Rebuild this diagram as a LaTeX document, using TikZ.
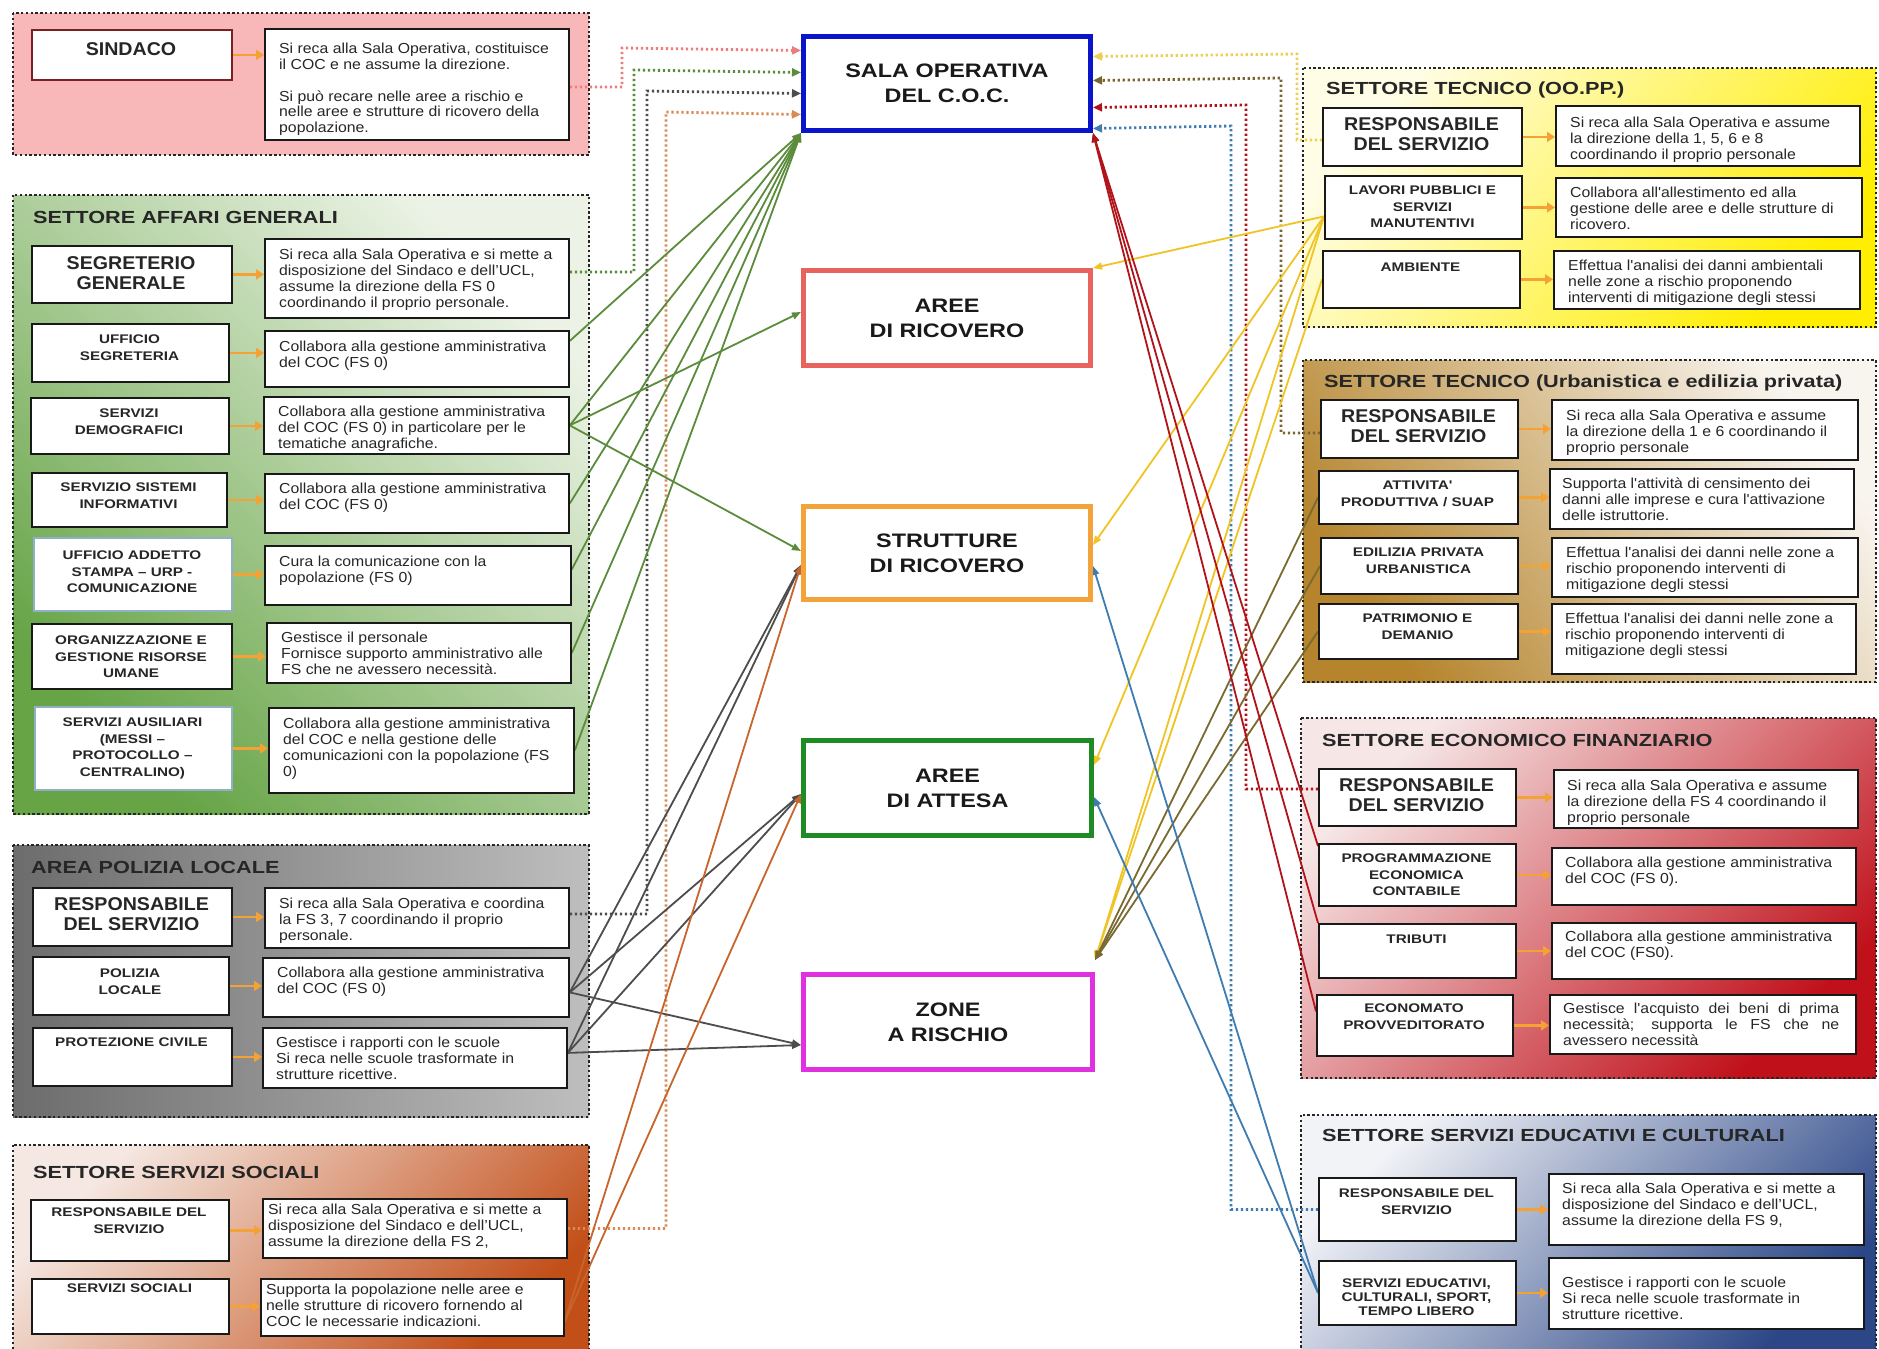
\documentclass[tikz,border=0pt]{standalone}
\usepackage{fontspec}
\setmainfont{Liberation Sans}
\newfontfamily\fdesc{Liberation Sans}[FakeStretch=1.09]
\newfontfamily\fsmall{Liberation Sans}[FakeStretch=1.22]
\newfontfamily\flarge{Liberation Sans}[FakeStretch=1.06]
\newfontfamily\ftitle{Liberation Sans}[FakeStretch=1.24]
\newfontfamily\fcent{Liberation Sans}[FakeStretch=1.2]
\usetikzlibrary{arrows.meta}
\pgfdeclarelayer{bg}
\pgfdeclarelayer{lnk}
\pgfsetlayers{bg,lnk,main}

\definecolor{sindF}{HTML}{F8B8BA}
\definecolor{affDark}{HTML}{66A446}
\definecolor{affLight}{HTML}{ECF3E6}
\definecolor{polDark}{HTML}{6C6C6C}
\definecolor{polMid}{HTML}{F4F4F4}
\definecolor{polRight}{HTML}{BEBEBE}
\definecolor{socLight}{HTML}{F5E8E2}
\definecolor{socDark}{HTML}{C24E18}
\definecolor{ooLight}{HTML}{FFFDE6}
\definecolor{ooDark}{HTML}{FFEE00}
\definecolor{urbDark}{HTML}{B5842C}
\definecolor{urbLight}{HTML}{F8F4EE}
\definecolor{ecoLight}{HTML}{F6E6E6}
\definecolor{ecoDark}{HTML}{C0101A}
\definecolor{eduLight}{HTML}{F2F3F7}
\definecolor{eduDark}{HTML}{2B4787}
\definecolor{salaC}{HTML}{0A14C8}
\definecolor{ricC}{HTML}{E8625E}
\definecolor{strC}{HTML}{F2A33A}
\definecolor{attC}{HTML}{1F8B24}
\definecolor{zonC}{HTML}{E030E0}
\definecolor{miniC}{HTML}{F4A236}
\definecolor{pinkD}{HTML}{EE7C7C}
\definecolor{greenL}{HTML}{5B8C3C}
\definecolor{greyL}{HTML}{4D4D4D}
\definecolor{orangeL}{HTML}{C8652C}
\definecolor{orangeD}{HTML}{D98A55}
\definecolor{yellowL}{HTML}{F0C424}
\definecolor{yellowD}{HTML}{EED050}
\definecolor{oliveL}{HTML}{7A6A30}
\definecolor{oliveD}{HTML}{7C6430}
\definecolor{redL}{HTML}{B0141A}
\definecolor{blueL}{HTML}{3E7CB2}
\definecolor{sindB}{HTML}{7A2020}
\definecolor{lbB}{HTML}{8FB0C8}

% name box: [extra] name x1 y1 x2 y2 texttop style text
\newcommand\nbx[9][]{%
  \node[nbox,#1,anchor=north west,minimum width={(#5)-(#3)},minimum height={(#6)-(#4)}] (#2) at (#3,#4) {};
  \node[#8,anchor=north] (#2t) at ({((#3)+(#5))/2},#7) {#9};}
% description box: name x1 y1 x2 y2 texttop pad text
\newcommand\dbx[8]{%
  \node[dbox,anchor=north west,minimum width={(#4)-(#2)},minimum height={(#5)-(#3)}] (#1) at (#2,#3) {};
  \node[dtext] (#1t) at ({(#2)+(#7)},#6) {#8};}

\begin{document}
\begin{tikzpicture}[x=1pt,y=-1pt,
  grp/.style={draw=black!85,line width=2.6pt,dash pattern=on 2.4pt off 2.4pt},
  nbox/.style={draw=black!90,fill=white,line width=1.8pt,inner sep=0pt},
  dbox/.style={draw=black!90,fill=white,line width=1.8pt,inner sep=0pt},
  dtext/.style={font={\fdesc\fontsize{14.5}{15.8}\selectfont},align=left,inner sep=0pt,anchor=north west,text=black!85},
  lsmall/.style={font={\fsmall\bfseries\fontsize{12.5}{16.5}\selectfont},align=center,inner sep=0pt,text=black!85},
  ltight/.style={font={\fsmall\bfseries\fontsize{12.5}{13.8}\selectfont},align=center,inner sep=0pt,text=black!85},
  llarge/.style={font={\flarge\bfseries\fontsize{18.5}{20.5}\selectfont},align=center,inner sep=0pt,text=black!85},
  ttl/.style={font={\ftitle\bfseries\fontsize{17.5}{20}\selectfont},inner sep=0pt,anchor=north west,text=black!85},
  cbox/.style={fill=white,line width=5pt,minimum width=287pt,minimum height=94pt,inner sep=0pt,align=center,
    font={\fcent\bfseries\fontsize{19.5}{25}\selectfont},text=black!90,anchor=north west},
  mini/.style={draw=miniC,line width=2.8pt,-{Triangle[length=8pt,width=10pt]}},
  sol/.style={line width=1.8pt,-{Triangle[length=9pt,width=7pt]}},
  dotc/.style={line width=2.8pt,dash pattern=on 2.2pt off 2.8pt,-{Triangle[length=9pt,width=8pt]}}]

\useasboundingbox (0,0) rectangle (1879,1349);

\begin{pgfonlayer}{bg}
\fill[white] (0,0) rectangle (1879,1349);
\filldraw[grp,fill=sindF] (13,13) rectangle (589,155);
\shadedraw[grp,top color=affDark,bottom color=affLight,shading angle=135] (13,195) rectangle (589,814);
\shadedraw[grp,left color=polDark,middle color=polMid,right color=polRight] (13,845) rectangle (589,1117);
\shadedraw[grp,top color=socLight,bottom color=socDark,shading angle=45] (13,1145) rectangle (589,1358);
\shadedraw[grp,top color=ooLight,bottom color=ooDark,shading angle=50] (1303,68) rectangle (1876,327);
\shadedraw[grp,top color=urbDark,bottom color=urbLight,shading angle=125] (1303,360) rectangle (1876,682);
\shadedraw[grp,top color=ecoLight,bottom color=ecoDark,shading angle=45] (1301,718) rectangle (1876,1078);
\shadedraw[grp,top color=eduLight,bottom color=eduDark,shading angle=45] (1301,1115) rectangle (1876,1358);
\end{pgfonlayer}

% titles
\node[ttl] (affT) at (33,211) {SETTORE AFFARI GENERALI};
\node[ttl] (polT) at (31,861) {AREA POLIZIA LOCALE};
\node[ttl] (socT) at (33,1166) {SETTORE SERVIZI SOCIALI};
\node[ttl] (ooT) at (1326,82) {SETTORE TECNICO (OO.PP.)};
\node[ttl] (urbT) at (1324,375) {SETTORE TECNICO (Urbanistica e edilizia privata)};
\node[ttl] (ecoT) at (1322,734) {SETTORE ECONOMICO FINANZIARIO};
\node[ttl] (eduT) at (1322,1129) {SETTORE SERVIZI EDUCATIVI E CULTURALI};

% left names
\nbx[draw=sindB]{sindN}{31}{29}{231}{79}{42}{llarge}{SINDACO}
\nbx{segN}{31}{245}{231}{302}{256}{llarge}{SEGRETERIO\\GENERALE}
\nbx{uffN}{31}{323}{228}{381}{335}{lsmall}{UFFICIO\\SEGRETERIA}
\nbx{demN}{30}{397}{228}{453}{409}{lsmall}{SERVIZI\\DEMOGRAFICI}
\nbx{sisN}{31}{472}{226}{526}{483}{lsmall}{SERVIZIO SISTEMI\\INFORMATIVI}
\nbx[draw=lbB]{staN}{33}{537}{231}{610}{551}{lsmall}{UFFICIO ADDETTO\\STAMPA – URP -\\COMUNICAZIONE}
\nbx{orgN}{31}{623}{231}{688}{636}{lsmall}{ORGANIZZAZIONE E\\GESTIONE RISORSE\\UMANE}
\nbx[draw=lbB]{ausN}{34}{706}{231}{789}{718}{lsmall}{SERVIZI AUSILIARI\\(MESSI –\\PROTOCOLLO –\\CENTRALINO)}
\nbx{polRN}{32}{887}{231}{945}{897}{llarge}{RESPONSABILE\\DEL SERVIZIO}
\nbx{polLN}{32}{956}{228}{1014}{969}{lsmall}{POLIZIA\\LOCALE}
\nbx{proN}{32}{1027}{231}{1085}{1038}{lsmall}{PROTEZIONE CIVILE}
\nbx{socRN}{30}{1199}{228}{1260}{1208}{lsmall}{RESPONSABILE DEL\\SERVIZIO}
\nbx{socSN}{31}{1278}{228}{1333}{1284}{lsmall}{SERVIZI SOCIALI}

% left descriptions
\dbx{sindD}{264}{28}{568}{139}{43}{15}{Si reca alla Sala Operativa, costituisce\\il COC e ne assume la direzione.\\[15.8pt]Si può recare nelle aree a rischio e\\nelle aree e strutture di ricovero della\\popolazione.}
\dbx{segD}{264}{238}{568}{317}{249}{15}{Si reca alla Sala Operativa e si mette a\\disposizione del Sindaco e dell’UCL,\\assume la direzione della FS 0\\coordinando il proprio personale.}
\dbx{uffD}{264}{330}{568}{386}{341}{15}{Collabora alla gestione amministrativa\\del COC (FS 0)}
\dbx{demD}{263}{396}{568}{453}{406}{15}{Collabora alla gestione amministrativa\\del COC (FS 0) in particolare per le\\tematiche anagrafiche.}
\dbx{sisD}{264}{473}{568}{532}{483}{15}{Collabora alla gestione amministrativa\\del COC (FS 0)}
\dbx{staD}{264}{545}{570}{604}{556}{15}{Cura la comunicazione con la\\popolazione (FS 0)}
\dbx{orgD}{266}{622}{570}{682}{632}{15}{Gestisce il personale\\Fornisce supporto amministrativo alle\\FS che ne avessero necessità.}
\dbx{ausD}{268}{707}{573}{792}{718}{15}{Collabora alla gestione amministrativa\\del COC e nella gestione delle\\comunicazioni con la popolazione (FS\\0)}
\dbx{polRD}{264}{887}{568}{947}{898}{15}{Si reca alla Sala Operativa e coordina\\la FS 3, 7 coordinando il proprio\\personale.}
\dbx{polLD}{262}{957}{568}{1016}{967}{15}{Collabora alla gestione amministrativa\\del COC (FS 0)}
\dbx{proD}{262}{1027}{566}{1087}{1037}{14}{Gestisce i rapporti con le scuole\\Si reca nelle scuole trasformate in\\strutture ricettive.}
\dbx{socRD}{262}{1198}{566}{1257}{1204}{6}{Si reca alla Sala Operativa e si mette a\\disposizione del Sindaco e dell’UCL,\\assume la direzione della FS 2,}
\dbx{socSD}{260}{1278}{563}{1335}{1284}{6}{Supporta la popolazione nelle aree e\\nelle strutture di ricovero fornendo al\\COC le necessarie indicazioni.}

% right names
\nbx{ooRN}{1322}{107}{1521}{165}{117}{llarge}{RESPONSABILE\\DEL SERVIZIO}
\nbx{lavN}{1324}{175}{1521}{238}{186}{lsmall}{LAVORI PUBBLICI E\\SERVIZI\\MANUTENTIVI}
\nbx{ambN}{1322}{250}{1519}{307}{263}{lsmall}{AMBIENTE}
\nbx{urbRN}{1320}{399}{1517}{457}{409}{llarge}{RESPONSABILE\\DEL SERVIZIO}
\nbx{attN}{1318}{470}{1517}{523}{481}{lsmall}{ATTIVITA'\\PRODUTTIVA / SUAP}
\nbx{ediN}{1320}{537}{1517}{593}{548}{lsmall}{EDILIZIA PRIVATA\\URBANISTICA}
\nbx{patN}{1318}{603}{1517}{658}{614}{lsmall}{PATRIMONIO E\\DEMANIO}
\nbx{ecoRN}{1318}{768}{1515}{825}{778}{llarge}{RESPONSABILE\\DEL SERVIZIO}
\nbx{progN}{1318}{843}{1515}{905}{854}{lsmall}{PROGRAMMAZIONE\\ECONOMICA\\CONTABILE}
\nbx{tribN}{1318}{923}{1515}{977}{935}{lsmall}{TRIBUTI}
\nbx{econN}{1316}{994}{1512}{1055}{1004}{lsmall}{ECONOMATO\\PROVVEDITORATO}
\nbx{eduRN}{1318}{1177}{1515}{1240}{1189}{lsmall}{RESPONSABILE DEL\\SERVIZIO}
\nbx{eduSN}{1318}{1260}{1515}{1324}{1279}{ltight}{SERVIZI EDUCATIVI,\\CULTURALI, SPORT,\\TEMPO LIBERO}

% right descriptions
\dbx{ooRD}{1555}{105}{1859}{165}{117}{15}{Si reca alla Sala Operativa e assume\\la direzione della 1, 5, 6 e 8\\coordinando il proprio personale}
\dbx{lavD}{1555}{177}{1861}{236}{187}{15}{Collabora all'allestimento ed alla\\gestione delle aree e delle strutture di\\ricovero.}
\dbx{ambD}{1553}{250}{1859}{308}{260}{15}{Effettua l'analisi dei danni ambientali\\nelle zone a rischio proponendo\\interventi di mitigazione degli stessi}
\dbx{urbRD}{1551}{399}{1857}{459}{410}{15}{Si reca alla Sala Operativa e assume\\la direzione della 1 e 6 coordinando il\\proprio personale}
\dbx{attD}{1549}{468}{1853}{528}{478}{13}{Supporta l'attività di censimento dei\\danni alle imprese e cura l'attivazione\\delle istruttorie.}
\dbx{ediD}{1551}{537}{1857}{596}{547}{15}{Effettua l'analisi dei danni nelle zone a\\rischio proponendo interventi di\\mitigazione degli stessi}
\dbx{patD}{1551}{603}{1855}{673}{613}{14}{Effettua l'analisi dei danni nelle zone a\\rischio proponendo interventi di\\mitigazione degli stessi}
\dbx{ecoRD}{1553}{769}{1857}{827}{780}{14}{Si reca alla Sala Operativa e assume\\la direzione della FS 4 coordinando il\\proprio personale}
\dbx{progD}{1551}{847}{1855}{904}{857}{14}{Collabora alla gestione amministrativa\\del COC (FS 0).}
\dbx{tribD}{1551}{922}{1855}{978}{931}{14}{Collabora alla gestione amministrativa\\del COC (FS0).}
\dbx{econD}{1549}{994}{1855}{1053}{1003}{14}{\makebox[276pt][s]{Gestisce l'acquisto dei beni di prima}\\\makebox[276pt][s]{necessità; supporta le FS che ne}\\avessero necessità}
\dbx{eduRD}{1548}{1173}{1863}{1244}{1183}{14}{Si reca alla Sala Operativa e si mette a\\disposizione del Sindaco e dell’UCL,\\assume la direzione della FS 9,}
\dbx{eduSD}{1548}{1257}{1863}{1328}{1277}{14}{Gestisce i rapporti con le scuole\\Si reca nelle scuole trasformate in\\strutture ricettive.}

% centre boxes
\node[cbox,draw=salaC] (sala) at (801,34) {SALA OPERATIVA\\DEL C.O.C.};
\node[cbox,draw=ricC,minimum height=95pt] (ricA) at (801,268) {AREE\\DI RICOVERO};
\node[cbox,draw=strC,minimum height=93pt] (strut) at (801,504) {STRUTTURE\\DI RICOVERO};
\node[cbox,draw=attC,minimum width=288pt,minimum height=95pt] (attesa) at (801,738) {AREE\\DI ATTESA};
\node[cbox,draw=zonC,minimum width=289pt,minimum height=95pt] (zone) at (801,972) {ZONE\\A RISCHIO};

% small orange arrows
\foreach \a/\b in {sindN/sindD,segN/segD,uffN/uffD,demN/demD,sisN/sisD,staN/staD,orgN/orgD,ausN/ausD,
  polRN/polRD,polLN/polLD,proN/proD,socRN/socRD,socSN/socSD,
  ooRN/ooRD,lavN/lavD,ambN/ambD,urbRN/urbRD,attN/attD,ediN/ediD,patN/patD,
  ecoRN/ecoRD,progN/progD,tribN/tribD,econN/econD,eduRN/eduRD,eduSN/eduSD}
  \draw[mini] (\a.east) -- (\a.east -| \b.west);

\begin{pgfonlayer}{lnk}
% dotted links to the Sala Operativa
\draw[dotc,color=pinkD] ([yshift=-2.5pt]sindD.east) -| (622,48) -- ([yshift=33pt]sala.west);
\draw[dotc,color=greenL] ([yshift=6.5pt]segD.east) -| (634,70) -- ([yshift=11pt]sala.west);
\draw[dotc,color=greyL] ([yshift=4pt]polRD.east) -| (647,91) -- ([yshift=-10pt]sala.west);
\draw[dotc,color=orangeD] (socRD.east) -| (666,112) -- ([yshift=-31pt]sala.west);
\draw[dotc,color=yellowD] ([yshift=-3pt]ooRN.west) -| (1297,54) -- ([yshift=27pt]sala.east);
\draw[dotc,color=oliveD] ([yshift=-4pt]urbRN.west) -| (1281,78) -- ([yshift=3pt]sala.east);
\draw[dotc,color=redL] ([yshift=8.5pt]ecoRN.west) -| (1246,105) -- ([yshift=-24pt]sala.east);
\draw[dotc,color=blueL] (eduRN.west) -| (1231,126) -- ([yshift=-45pt]sala.east);

% green links
\draw[sol,color=greenL] ([yshift=18pt]uffD.east) -- (sala.south west);
\draw[sol,color=greenL] (demD.east) -- (sala.south west);
\draw[sol,color=greenL] (demD.east) -- ([yshift=6pt]ricA.west);
\draw[sol,color=greenL] (demD.east) -- ([yshift=2pt]strut.west);
\draw[sol,color=greenL] (sisD.east) -- (sala.south west);
\draw[sol,color=greenL] ([yshift=6pt]staD.east) -- (sala.south west);
\draw[sol,color=greenL] (orgD.east) -- (sala.south west);
\draw[sol,color=greenL] (ausD.east) -- (sala.south west);
% grey links
\draw[sol,color=greyL] ([yshift=-5pt]polLD.east) -- ([yshift=-12pt]strut.west);
\draw[sol,color=greyL] ([yshift=-5pt]polLD.east) -- ([yshift=-6pt]attesa.west);
\draw[sol,color=greyL] ([yshift=-5pt]polLD.east) -- ([yshift=-23pt]zone.west);
\draw[sol,color=greyL] ([yshift=5pt]proD.east) -- ([yshift=-12pt]strut.west);
\draw[sol,color=greyL] ([yshift=5pt]proD.east) -- ([yshift=-6pt]attesa.west);
\draw[sol,color=greyL] ([yshift=5pt]proD.east) -- ([yshift=-23pt]zone.west);
% orange links
\draw[sol,color=orangeL] ([yshift=-14pt]socSD.east) -- ([yshift=-12pt]strut.west);
\draw[sol,color=orangeL] ([yshift=-14pt]socSD.east) -- ([yshift=-6pt]attesa.west);
% yellow links
\draw[sol,color=yellowL] ([yshift=-9pt]lavN.west) -- (ricA.north east);
\draw[sol,color=yellowL] ([yshift=-9pt]lavN.west) -- ([yshift=8pt]strut.east);
\draw[sol,color=yellowL] ([yshift=-9pt]lavN.west) -- ([yshift=23pt]attesa.east);
\draw[sol,color=yellowL] ([yshift=-9pt]lavN.west) -- ([yshift=12pt]zone.north east);
\draw[sol,color=yellowL] (ambN.west) -- ([yshift=12pt]zone.north east);
% olive links
\draw[sol,color=oliveL] (attN.west) -- ([yshift=12pt]zone.north east);
\draw[sol,color=oliveL] (ediN.west) -- ([yshift=12pt]zone.north east);
\draw[sol,color=oliveL] (patN.west) -- ([yshift=12pt]zone.north east);
% red links
\draw[sol,color=redL] ([yshift=-3pt]progN.north west) -- (sala.south east);
\draw[sol,color=redL] (tribN.north west) -- (sala.south east);
\draw[sol,color=redL] ([yshift=14pt]econN.west) -- (sala.south east);
% blue links
\draw[sol,color=blueL] (eduSN.west) -- ([yshift=-13pt]strut.east);
\draw[sol,color=blueL] (eduSN.west) -- ([yshift=-9pt]attesa.east);
\end{pgfonlayer}
\end{tikzpicture}
\end{document}
